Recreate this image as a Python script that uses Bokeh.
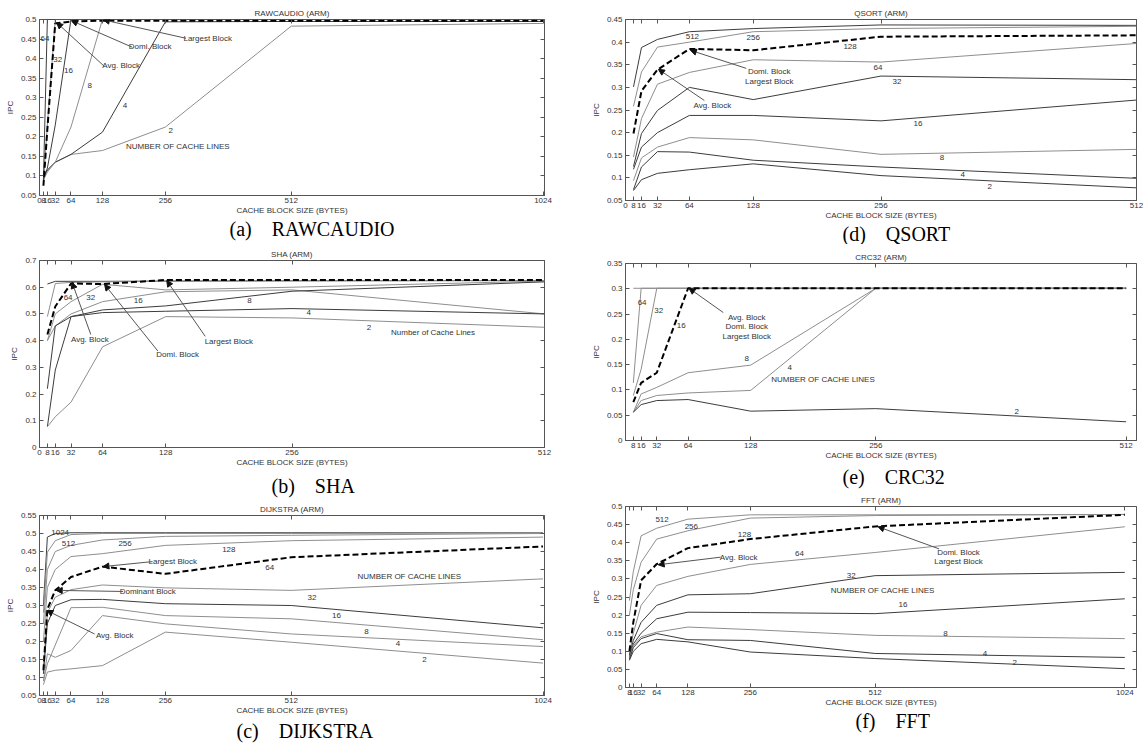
from bokeh.plotting import figure
from bokeh.models import (Range1d, FixedTicker, LinearAxis, Label, Arrow, NormalHead,
                          CustomJSTickFormatter, Title)
from bokeh.layouts import row, column
from bokeh.embed import file_html
from bokeh.resources import INLINE

# ---------------- data ----------------
# (a) RAWCAUDIO
RAW_X = [8, 16, 32, 64, 128, 256, 512, 1024]
RAW_L2 = [0.10, 0.115, 0.135, 0.155, 0.165, 0.225, 0.483, 0.490]
RAW_L4 = [0.10, 0.115, 0.135, 0.155, 0.212, 0.494, 0.495, 0.495]
RAW_L8 = [0.09, 0.110, 0.135, 0.225, 0.500, 0.500, 0.500, 0.500]
RAW_L16 = [0.09, 0.120, 0.230, 0.500, 0.500, 0.500, 0.500, 0.500]
RAW_L32 = [0.085, 0.230, 0.500, 0.500, 0.500, 0.500, 0.500, 0.500]
RAW_L64 = [0.09, 0.500, 0.500, 0.500, 0.500, 0.500, 0.500, 0.500]
RAW_BLOCK = [0.075, 0.220, 0.490, 0.495, 0.497, 0.497, 0.497, 0.497]
RAW_XTICKS = [0, 8, 16, 32, 64, 128, 256, 512, 1024]
RAW_YTICKS = [0.05, 0.1, 0.15, 0.2, 0.25, 0.3, 0.35, 0.4, 0.45, 0.5]

# (d) QSORT
QS_X = [8, 16, 32, 64, 128, 256, 512]
QS_L512 = [0.301, 0.388, 0.406, 0.423, 0.430, 0.438, 0.437]
QS_L256 = [0.258, 0.334, 0.389, 0.400, 0.423, 0.430, 0.435]
QS_L64 = [0.146, 0.231, 0.307, 0.333, 0.361, 0.356, 0.397]
QS_L32 = [0.125, 0.198, 0.249, 0.300, 0.273, 0.325, 0.317]
QS_L16 = [0.119, 0.168, 0.200, 0.238, 0.238, 0.226, 0.272]
QS_L8 = [0.094, 0.144, 0.168, 0.189, 0.184, 0.152, 0.163]
QS_L4 = [0.074, 0.124, 0.158, 0.157, 0.139, 0.124, 0.099]
QS_L2 = [0.072, 0.096, 0.110, 0.118, 0.131, 0.105, 0.078]
QS_BLOCK = [0.198, 0.292, 0.339, 0.385, 0.382, 0.412, 0.415]
QS_XTICKS = [0, 8, 16, 32, 64, 128, 256, 512]
QS_YTICKS = [0.05, 0.1, 0.15, 0.2, 0.25, 0.3, 0.35, 0.4, 0.45]

# (b) SHA
SHA_X = [8, 16, 32, 64, 128, 256, 512]
SHA_L512 = [0.612, 0.622, 0.622, 0.622, 0.623, 0.624, 0.625]
SHA_L128 = [0.490, 0.614, 0.618, 0.620, 0.622, 0.624, 0.625]
SHA_L32 = [0.400, 0.500, 0.546, 0.611, 0.590, 0.600, 0.623]
SHA_L16 = [0.400, 0.455, 0.500, 0.546, 0.583, 0.590, 0.500]
SHA_L8 = [0.220, 0.455, 0.490, 0.515, 0.530, 0.585, 0.620]
SHA_L4 = [0.078, 0.290, 0.490, 0.505, 0.510, 0.520, 0.500]
SHA_L2 = [0.078, 0.115, 0.170, 0.377, 0.490, 0.485, 0.450]
SHA_BLOCK = [0.423, 0.528, 0.614, 0.612, 0.627, 0.627, 0.627]
SHA_XTICKS = [0, 8, 16, 32, 64, 128, 256, 512]
SHA_YTICKS = [0, 0.1, 0.2, 0.3, 0.4, 0.5, 0.6, 0.7]

# (e) CRC32
CRC_X = [8, 16, 32, 64, 128, 256, 512]
CRC_L128 = [0.301, 0.301, 0.301, 0.301, 0.301, 0.301, 0.301]
CRC_L64 = [0.114, 0.301, 0.301, 0.301, 0.301, 0.301, 0.301]
CRC_L32 = [0.089, 0.141, 0.301, 0.301, 0.301, 0.301, 0.301]
CRC_L8 = [0.056, 0.092, 0.105, 0.134, 0.149, 0.301, 0.301]
CRC_L4 = [0.056, 0.079, 0.089, 0.094, 0.099, 0.301, 0.301]
CRC_L2 = [0.056, 0.071, 0.079, 0.081, 0.058, 0.063, 0.037]
CRC_BLOCK = [0.076, 0.114, 0.134, 0.301, 0.301, 0.301, 0.301]
CRC_XTICKS = [8, 16, 32, 64, 128, 256, 512]
CRC_YTICKS = [0, 0.05, 0.1, 0.15, 0.2, 0.25, 0.3, 0.35]

# (c) DIJKSTRA
DIJ_X = [8, 16, 32, 64, 128, 256, 512, 1024]
DIJ_L1024 = [0.300, 0.490, 0.500, 0.502, 0.502, 0.502, 0.502, 0.502]
DIJ_L512 = [0.280, 0.448, 0.480, 0.497, 0.500, 0.500, 0.500, 0.502]
DIJ_L256 = [0.250, 0.400, 0.450, 0.467, 0.482, 0.492, 0.495, 0.500]
DIJ_L128 = [0.200, 0.350, 0.400, 0.436, 0.444, 0.467, 0.480, 0.490]
DIJ_L32 = [0.130, 0.280, 0.323, 0.344, 0.357, 0.349, 0.342, 0.374]
DIJ_L16 = [0.110, 0.250, 0.300, 0.316, 0.317, 0.305, 0.300, 0.238]
DIJ_L8 = [0.090, 0.138, 0.190, 0.294, 0.295, 0.272, 0.263, 0.205]
DIJ_L4 = [0.090, 0.166, 0.156, 0.175, 0.272, 0.249, 0.221, 0.186]
DIJ_L2 = [0.080, 0.115, 0.120, 0.124, 0.133, 0.226, 0.198, 0.140]
DIJ_BLOCK = [0.120, 0.290, 0.342, 0.379, 0.408, 0.388, 0.434, 0.464]
DIJ_XTICKS = [0, 8, 16, 32, 64, 128, 256, 512, 1024]
DIJ_YTICKS = [0.05, 0.1, 0.15, 0.2, 0.25, 0.3, 0.35, 0.4, 0.45, 0.5, 0.55]

# (f) FFT
FFT_X = [8, 16, 32, 64, 128, 256, 512, 1024]
FFT_L512 = [0.240, 0.320, 0.419, 0.440, 0.465, 0.477, 0.477, 0.478]
FFT_L256 = [0.200, 0.270, 0.346, 0.410, 0.433, 0.468, 0.475, 0.478]
FFT_L64 = [0.090, 0.150, 0.227, 0.282, 0.307, 0.340, 0.373, 0.444]
FFT_L32 = [0.090, 0.130, 0.180, 0.227, 0.256, 0.259, 0.309, 0.318]
FFT_L16 = [0.085, 0.120, 0.150, 0.190, 0.208, 0.207, 0.204, 0.245]
FFT_L8 = [0.080, 0.115, 0.140, 0.153, 0.167, 0.160, 0.144, 0.135]
FFT_L4 = [0.078, 0.110, 0.135, 0.149, 0.132, 0.130, 0.094, 0.083]
FFT_L2 = [0.075, 0.100, 0.121, 0.133, 0.126, 0.098, 0.080, 0.052]
FFT_BLOCK = [0.100, 0.180, 0.296, 0.341, 0.385, 0.410, 0.445, 0.477]
FFT_XTICKS = [8, 16, 32, 64, 128, 256, 512, 1024]
FFT_YTICKS = [0, 0.05, 0.1, 0.15, 0.2, 0.25, 0.3, 0.35, 0.4, 0.45, 0.5]

# ---------------- styling ----------------
DARK = "#3c3c3c"
GRAY = "#8e8e8e"
TXT = "#333333"
SANS = "Liberation Sans"
SERIF = "Liberation Serif"
XLABEL = "CACHE BLOCK SIZE (BYTES)"
FMT = "return String(Math.round(tick*1000)/1000);"


def panel(title, caption, cap_off, cap_stand, width, height, borders, xr, yr, xticks, yticks,
          x, series, block, labels, arrows):
    l, r, t, b = borders
    p = figure(width=width, height=height, x_range=Range1d(*xr), y_range=Range1d(*yr),
               output_backend="svg", toolbar_location=None, title=title,
               min_border_left=l, min_border_right=r, min_border_top=t, min_border_bottom=b)
    p.title.text_font = SANS
    p.title.text_font_size = "8px"
    p.title.text_font_style = "normal"
    p.title.text_color = TXT
    p.title.align = "center"
    p.title.standoff = 4
    p.grid.visible = False
    p.outline_line_color = "#555555"
    p.background_fill_color = "white"
    p.border_fill_color = "white"

    for ax in (p.xaxis[0], p.yaxis[0]):
        ax.major_label_text_font = SANS
        ax.major_label_text_font_size = "8px"
        ax.major_label_text_color = TXT
        ax.axis_label_text_font = SANS
        ax.axis_label_text_font_size = "8px"
        ax.axis_label_text_font_style = "normal"
        ax.axis_label_text_color = TXT
        ax.major_tick_in = 4
        ax.major_tick_out = 0
        ax.minor_tick_line_color = None
        ax.axis_line_color = "#555555"
        ax.major_tick_line_color = "#555555"
        ax.major_label_standoff = 2
        ax.axis_label_standoff = 0
    p.yaxis[0].major_label_standoff = 3
    p.yaxis[0].axis_label_standoff = 3
    p.xaxis[0].ticker = FixedTicker(ticks=xticks)
    p.yaxis[0].ticker = FixedTicker(ticks=yticks)
    p.xaxis[0].formatter = CustomJSTickFormatter(code=FMT)
    p.yaxis[0].formatter = CustomJSTickFormatter(code=FMT)
    p.xaxis[0].axis_label = XLABEL
    p.yaxis[0].axis_label = "IPC"

    for loc, ticks in (("above", xticks), ("right", yticks)):
        ax = LinearAxis(ticker=FixedTicker(ticks=ticks), major_label_text_font_size="0px",
                        major_label_text_color=None, major_tick_in=4, major_tick_out=0,
                        minor_tick_line_color=None, axis_line_color=None,
                        major_label_standoff=0, major_tick_line_color="#555555")
        p.add_layout(ax, loc)

    for vals, col in series:
        p.line(x, vals, line_color=col, line_width=1)
    p.line(x, block, line_color="black", line_width=2, line_dash="6 3")

    for (lx, ly, txt, align) in labels:
        p.add_layout(Label(x=lx, y=ly, text=txt, text_font=SANS, text_font_size="8px",
                           text_color=TXT, text_align=align, text_baseline="middle"))
    for (x0, y0, x1, y1) in arrows:
        p.add_layout(Arrow(end=NormalHead(size=6, fill_color="#111111", line_color="#111111"),
                           x_start=x0, y_start=y0, x_end=x1, y_end=y1,
                           line_color="#555555", line_width=1))

    cap = Title(text=caption, align="left", offset=cap_off, text_font=SERIF,
                text_font_size="20px", text_font_style="normal", text_color="black",
                standoff=cap_stand)
    p.add_layout(cap, "below")
    return p


SP = "\u00a0" * 4

fa = panel("RAWCAUDIO (ARM)", "(a)" + SP + "RAWCAUDIO", 190, -3, 568, 242, (39, 21, 19, 47),
           (0, 1027), (0.05, 0.5), RAW_XTICKS, RAW_YTICKS, RAW_X,
           [(RAW_L2, GRAY), (RAW_L4, DARK), (RAW_L8, GRAY), (RAW_L16, DARK),
            (RAW_L32, GRAY), (RAW_L64, DARK)], RAW_BLOCK,
           [(11, 0.452, "64", "center"), (37, 0.398, "32", "center"),
            (59, 0.370, "16", "center"), (102, 0.332, "8", "center"),
            (174, 0.280, "4", "center"), (267, 0.216, "2", "center"),
            (176, 0.175, "NUMBER OF CACHE LINES", "left"),
            (166, 0.383, "Avg. Block", "center"), (225, 0.432, "Domi. Block", "center"),
            (342, 0.452, "Largest Block", "center")],
           [(298, 0.452, 130, 0.499), (189, 0.429, 65, 0.497), (132, 0.380, 35, 0.492)])

fb = panel("SHA (ARM)", "(b)" + SP + "SHA", 232, 7, 568, 258, (34, 24, 18, 51),
           (0, 512), (0, 0.7), SHA_XTICKS, SHA_YTICKS, SHA_X,
           [(SHA_L512, DARK), (SHA_L128, GRAY), (SHA_L32, GRAY), (SHA_L16, GRAY),
            (SHA_L8, DARK), (SHA_L4, DARK), (SHA_L2, GRAY)], SHA_BLOCK,
           [(29, 0.562, "64", "center"), (52, 0.562, "32", "center"),
            (100, 0.552, "16", "center"), (213, 0.550, "8", "center"),
            (273, 0.505, "4", "center"), (334, 0.451, "2", "center"),
            (399, 0.429, "Number of Cache Lines", "center"),
            (51, 0.404, "Avg. Block", "center"), (140, 0.349, "Domi. Block", "center"),
            (192, 0.398, "Largest Block", "center")],
           [(52, 0.423, 33, 0.618), (120, 0.361, 66, 0.610), (168, 0.416, 129, 0.625)])

fc = panel("DIJKSTRA (ARM)", "(c)" + SP + "DIJKSTRA", 197, 0, 568, 246, (39, 21, 15, 51),
           (0, 1027), (0.05, 0.55), DIJ_XTICKS, DIJ_YTICKS, DIJ_X,
           [(DIJ_L1024, DARK), (DIJ_L512, GRAY), (DIJ_L256, GRAY), (DIJ_L128, GRAY),
            (DIJ_L32, GRAY), (DIJ_L16, DARK), (DIJ_L8, GRAY), (DIJ_L4, GRAY),
            (DIJ_L2, GRAY)], DIJ_BLOCK,
           [(42, 0.504, "1024", "center"), (59, 0.473, "512", "center"),
            (174, 0.473, "256", "center"), (385, 0.455, "128", "center"),
            (468, 0.406, "64", "center"), (554, 0.323, "32", "center"),
            (604, 0.272, "16", "center"), (665, 0.229, "8", "center"),
            (729, 0.194, "4", "center"), (783, 0.150, "2", "center"),
            (752, 0.381, "NUMBER OF CACHE LINES", "center"),
            (271, 0.422, "Largest Block", "center"), (220, 0.339, "Dominant Block", "center"),
            (153, 0.217, "Avg. Block", "center")],
           [(230, 0.422, 129, 0.408), (170, 0.339, 34, 0.342), (112, 0.221, 15, 0.286)])

fd = panel("QSORT (ARM)", "(d)" + SP + "QSORT", 217, -3, 578, 244, (56, 10, 19, 44),
           (0, 512), (0.05, 0.45), QS_XTICKS, QS_YTICKS, QS_X,
           [(QS_L512, DARK), (QS_L256, GRAY), (QS_L64, GRAY), (QS_L32, DARK),
            (QS_L16, DARK), (QS_L8, GRAY), (QS_L4, DARK), (QS_L2, DARK)], QS_BLOCK,
           [(67, 0.413, "512", "center"), (128, 0.410, "256", "center"),
            (225, 0.391, "128", "center"), (253, 0.343, "64", "center"),
            (272, 0.314, "32", "center"), (293, 0.221, "16", "center"),
            (317, 0.145, "8", "center"), (338, 0.108, "4", "center"),
            (365, 0.081, "2", "center"),
            (144, 0.334, "Domi. Block", "center"), (144, 0.312, "Largest Block", "center"),
            (87, 0.260, "Avg. Block", "center")],
           [(121, 0.342, 65, 0.382), (79, 0.271, 33, 0.340)])

fe = panel("CRC32 (ARM)", "(e)" + SP + "CRC32", 217, 3, 578, 245, (56, 2, 19, 47),
           (0, 522.6), (0, 0.35), CRC_XTICKS, CRC_YTICKS, CRC_X,
           [(CRC_L128, GRAY), (CRC_L64, GRAY), (CRC_L32, GRAY), (CRC_L8, GRAY),
            (CRC_L4, GRAY), (CRC_L2, DARK)], CRC_BLOCK,
           [(17, 0.272, "64", "center"), (34, 0.258, "32", "center"),
            (57, 0.227, "16", "center"), (124, 0.162, "8", "center"),
            (168, 0.145, "4", "center"), (400, 0.058, "2", "center"),
            (149, 0.121, "NUMBER OF CACHE LINES", "left"),
            (124, 0.244, "Avg. Block", "center"), (124, 0.225, "Domi. Block", "center"),
            (124, 0.206, "Largest Block", "center")],
           [(100, 0.253, 65, 0.301)])

ff = panel("FFT (ARM)", "(f)" + SP + "FFT", 230, -4, 578, 257, (57, 2, 17, 59),
           (0, 1048), (0, 0.5), FFT_XTICKS, FFT_YTICKS, FFT_X,
           [(FFT_L512, GRAY), (FFT_L256, GRAY), (FFT_L64, GRAY), (FFT_L32, DARK),
            (FFT_L16, DARK), (FFT_L8, GRAY), (FFT_L4, DARK), (FFT_L2, DARK)], FFT_BLOCK,
           [(75, 0.463, "512", "center"), (135, 0.444, "256", "center"),
            (244, 0.424, "128", "center"), (357, 0.369, "64", "center"),
            (463, 0.309, "32", "center"), (569, 0.228, "16", "center"),
            (656, 0.150, "8", "center"), (737, 0.095, "4", "center"),
            (798, 0.070, "2", "center"),
            (421, 0.268, "NUMBER OF CACHE LINES", "left"),
            (232, 0.360, "Avg. Block", "center"),
            (683, 0.373, "Domi. Block", "center"), (683, 0.348, "Largest Block", "center")],
           [(195, 0.360, 67, 0.339), (643, 0.383, 518, 0.444)])

layout = row(column(fa, fb, fc), column(fd, fe, ff))
open("out.html", "w").write(file_html(layout, INLINE))
